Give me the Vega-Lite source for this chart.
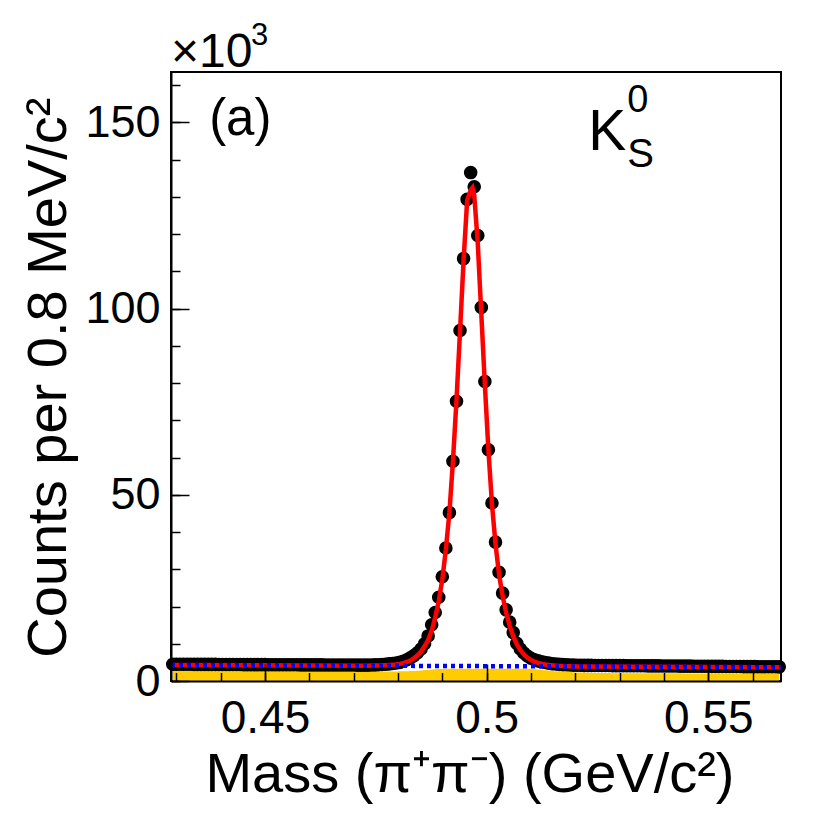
{
  "$schema": "https://vega.github.io/schema/vega-lite/v6.json",
  "description": "Ks0 -> pi+ pi- invariant mass with fit",
  "width": 610, "height": 609,
  "autosize": {"type": "none"},
  "padding": {"left": 171, "top": 72, "right": 49, "bottom": 136},
  "background": "white",
  "config": {
    "view": {"stroke": "black", "strokeWidth": 2},
    "font": "Liberation Sans",
    "text": {"font": "Liberation Sans", "color": "black"}
  },
  "datasets": {
    "bins": [
      {"m":0.4292,"n":4.50,"yl":2.80},{"m":0.4300,"n":4.50,"yl":2.80},{"m":0.4308,"n":4.49,"yl":2.79},{"m":0.4316,"n":4.49,"yl":2.79},
      {"m":0.4324,"n":4.48,"yl":2.78},{"m":0.4332,"n":4.48,"yl":2.78},{"m":0.4340,"n":4.47,"yl":2.77},{"m":0.4348,"n":4.47,"yl":2.77},
      {"m":0.4356,"n":4.46,"yl":2.77},{"m":0.4364,"n":4.46,"yl":2.76},{"m":0.4372,"n":4.46,"yl":2.76},{"m":0.4380,"n":4.45,"yl":2.75},
      {"m":0.4388,"n":4.45,"yl":2.75},{"m":0.4396,"n":4.44,"yl":2.74},{"m":0.4404,"n":4.44,"yl":2.74},{"m":0.4412,"n":4.43,"yl":2.74},
      {"m":0.4420,"n":4.43,"yl":2.73},{"m":0.4428,"n":4.43,"yl":2.73},{"m":0.4436,"n":4.42,"yl":2.72},{"m":0.4444,"n":4.42,"yl":2.72},
      {"m":0.4452,"n":4.41,"yl":2.71},{"m":0.4460,"n":4.41,"yl":2.71},{"m":0.4468,"n":4.40,"yl":2.71},{"m":0.4476,"n":4.40,"yl":2.70},
      {"m":0.4484,"n":4.39,"yl":2.70},{"m":0.4492,"n":4.39,"yl":2.69},{"m":0.4500,"n":4.39,"yl":2.69},{"m":0.4508,"n":4.38,"yl":2.68},
      {"m":0.4516,"n":4.38,"yl":2.68},{"m":0.4524,"n":4.37,"yl":2.68},{"m":0.4532,"n":4.37,"yl":2.67},{"m":0.4540,"n":4.36,"yl":2.67},
      {"m":0.4548,"n":4.36,"yl":2.66},{"m":0.4556,"n":4.35,"yl":2.66},{"m":0.4564,"n":4.35,"yl":2.65},{"m":0.4572,"n":4.35,"yl":2.65},
      {"m":0.4580,"n":4.34,"yl":2.65},{"m":0.4588,"n":4.34,"yl":2.64},{"m":0.4596,"n":4.33,"yl":2.64},{"m":0.4604,"n":4.33,"yl":2.63},
      {"m":0.4612,"n":4.32,"yl":2.63},{"m":0.4620,"n":4.32,"yl":2.62},{"m":0.4628,"n":4.32,"yl":2.62},{"m":0.4636,"n":4.31,"yl":2.62},
      {"m":0.4644,"n":4.31,"yl":2.61},{"m":0.4652,"n":4.30,"yl":2.61},{"m":0.4660,"n":4.30,"yl":2.60},{"m":0.4668,"n":4.29,"yl":2.60},
      {"m":0.4676,"n":4.29,"yl":2.59},{"m":0.4684,"n":4.28,"yl":2.59},{"m":0.4692,"n":4.28,"yl":2.59},{"m":0.4700,"n":4.28,"yl":2.58},
      {"m":0.4708,"n":4.27,"yl":2.58},{"m":0.4716,"n":4.27,"yl":2.57},{"m":0.4724,"n":4.26,"yl":2.57},{"m":0.4732,"n":4.26,"yl":2.56},
      {"m":0.4740,"n":4.30,"yl":2.56},{"m":0.4748,"n":4.33,"yl":2.56},{"m":0.4756,"n":4.37,"yl":2.55},{"m":0.4764,"n":4.42,"yl":2.56},
      {"m":0.4772,"n":4.50,"yl":2.56},{"m":0.4780,"n":4.60,"yl":2.57},{"m":0.4788,"n":4.70,"yl":2.57},{"m":0.4796,"n":4.84,"yl":2.58},
      {"m":0.4804,"n":5.00,"yl":2.59},{"m":0.4812,"n":5.30,"yl":2.60},{"m":0.4820,"n":5.70,"yl":2.63},{"m":0.4828,"n":6.20,"yl":2.66},
      {"m":0.4836,"n":6.80,"yl":2.70},{"m":0.4844,"n":7.60,"yl":2.77},{"m":0.4852,"n":8.60,"yl":2.85},{"m":0.4860,"n":10.0,"yl":2.93},
      {"m":0.4868,"n":12.1,"yl":3.00},{"m":0.4876,"n":15.1,"yl":3.08},{"m":0.4884,"n":18.4,"yl":3.15},{"m":0.4892,"n":22.5,"yl":3.20},
      {"m":0.4900,"n":28.0,"yl":3.25},{"m":0.4908,"n":35.7,"yl":3.28},{"m":0.4916,"n":45.2,"yl":3.30},{"m":0.4924,"n":59.0,"yl":3.30},
      {"m":0.4932,"n":75.1,"yl":3.30},{"m":0.4940,"n":94.1,"yl":3.30},{"m":0.4948,"n":113.4,"yl":3.30},{"m":0.4956,"n":129.3,"yl":3.30},
      {"m":0.4964,"n":136.5,"yl":3.30},{"m":0.4972,"n":132.7,"yl":3.30},{"m":0.4980,"n":119.6,"yl":3.30},{"m":0.4988,"n":100.3,"yl":3.30},
      {"m":0.4996,"n":80.4,"yl":3.30},{"m":0.5004,"n":62.1,"yl":3.30},{"m":0.5012,"n":47.8,"yl":3.30},{"m":0.5020,"n":37.3,"yl":3.30},
      {"m":0.5028,"n":29.2,"yl":3.30},{"m":0.5036,"n":23.6,"yl":3.30},{"m":0.5044,"n":19.1,"yl":3.30},{"m":0.5052,"n":15.8,"yl":3.30},
      {"m":0.5060,"n":13.0,"yl":3.30},{"m":0.5068,"n":10.1,"yl":3.30},{"m":0.5076,"n":8.6,"yl":3.30},{"m":0.5084,"n":7.5,"yl":3.30},
      {"m":0.5092,"n":6.7,"yl":3.30},{"m":0.5100,"n":6.1,"yl":3.26},{"m":0.5108,"n":5.7,"yl":3.20},{"m":0.5116,"n":5.4,"yl":3.10},
      {"m":0.5124,"n":5.15,"yl":3.00},{"m":0.5132,"n":4.95,"yl":2.90},{"m":0.5140,"n":4.80,"yl":2.80},{"m":0.5148,"n":4.65,"yl":2.72},
      {"m":0.5156,"n":4.55,"yl":2.65},{"m":0.5164,"n":4.47,"yl":2.57},{"m":0.5172,"n":4.40,"yl":2.50},{"m":0.5180,"n":4.35,"yl":2.45},
      {"m":0.5188,"n":4.30,"yl":2.40},{"m":0.5196,"n":4.27,"yl":2.35},{"m":0.5204,"n":4.24,"yl":2.31},{"m":0.5212,"n":4.22,"yl":2.28},
      {"m":0.5220,"n":4.20,"yl":2.25},{"m":0.5228,"n":4.19,"yl":2.22},{"m":0.5236,"n":4.19,"yl":2.19},{"m":0.5244,"n":4.18,"yl":2.17},
      {"m":0.5252,"n":4.17,"yl":2.15},{"m":0.5260,"n":4.16,"yl":2.14},{"m":0.5268,"n":4.16,"yl":2.13},{"m":0.5276,"n":4.15,"yl":2.12},
      {"m":0.5284,"n":4.14,"yl":2.11},{"m":0.5292,"n":4.13,"yl":2.10},{"m":0.5300,"n":4.13,"yl":2.10},{"m":0.5308,"n":4.12,"yl":2.10},
      {"m":0.5316,"n":4.11,"yl":2.10},{"m":0.5324,"n":4.11,"yl":2.09},{"m":0.5332,"n":4.10,"yl":2.09},{"m":0.5340,"n":4.09,"yl":2.09},
      {"m":0.5348,"n":4.08,"yl":2.08},{"m":0.5356,"n":4.08,"yl":2.08},{"m":0.5364,"n":4.07,"yl":2.08},{"m":0.5372,"n":4.06,"yl":2.07},
      {"m":0.5380,"n":4.05,"yl":2.07},{"m":0.5388,"n":4.05,"yl":2.07},{"m":0.5396,"n":4.04,"yl":2.06},{"m":0.5404,"n":4.03,"yl":2.06},
      {"m":0.5412,"n":4.03,"yl":2.06},{"m":0.5420,"n":4.02,"yl":2.05},{"m":0.5428,"n":4.01,"yl":2.05},{"m":0.5436,"n":4.00,"yl":2.05},
      {"m":0.5444,"n":4.00,"yl":2.04},{"m":0.5452,"n":3.99,"yl":2.04},{"m":0.5460,"n":3.98,"yl":2.04},{"m":0.5468,"n":3.97,"yl":2.03},
      {"m":0.5476,"n":3.97,"yl":2.03},{"m":0.5484,"n":3.96,"yl":2.03},{"m":0.5492,"n":3.95,"yl":2.02},{"m":0.5500,"n":3.95,"yl":2.02},
      {"m":0.5508,"n":3.94,"yl":2.02},{"m":0.5516,"n":3.93,"yl":2.01},{"m":0.5524,"n":3.92,"yl":2.01},{"m":0.5532,"n":3.92,"yl":2.01},
      {"m":0.5540,"n":3.91,"yl":2.01},{"m":0.5548,"n":3.90,"yl":2.00},{"m":0.5556,"n":3.89,"yl":2.00},{"m":0.5564,"n":3.89,"yl":2.00},
      {"m":0.5572,"n":3.88,"yl":2.00},{"m":0.5580,"n":3.87,"yl":2.00},{"m":0.5588,"n":3.87,"yl":2.00},{"m":0.5596,"n":3.86,"yl":1.99},
      {"m":0.5604,"n":3.85,"yl":1.99},{"m":0.5612,"n":3.84,"yl":1.99},{"m":0.5620,"n":3.84,"yl":1.99},{"m":0.5628,"n":3.83,"yl":1.99},
      {"m":0.5636,"n":3.82,"yl":1.98},{"m":0.5644,"n":3.81,"yl":1.98},{"m":0.5652,"n":3.81,"yl":1.98},{"m":0.5660,"n":3.80,"yl":1.98}
    ],
    "fit": [
      {"m":0.4288,"f":4.30},{"m":0.4732,"f":4.11},{"m":0.4740,"f":4.13},{"m":0.4748,"f":4.15},{"m":0.4756,"f":4.18},
      {"m":0.4764,"f":4.21},{"m":0.4772,"f":4.25},{"m":0.4780,"f":4.30},{"m":0.4788,"f":4.37},{"m":0.4796,"f":4.46},
      {"m":0.4804,"f":4.60},{"m":0.4812,"f":4.80},{"m":0.4820,"f":5.10},{"m":0.4828,"f":5.50},{"m":0.4836,"f":6.10},
      {"m":0.4844,"f":6.90},{"m":0.4852,"f":7.90},{"m":0.4860,"f":9.30},{"m":0.4868,"f":11.0},{"m":0.4876,"f":13.5},
      {"m":0.4884,"f":17.0},{"m":0.4892,"f":21.5},{"m":0.4900,"f":27.3},{"m":0.4908,"f":35.3},{"m":0.4916,"f":45.2},
      {"m":0.4924,"f":59.0},{"m":0.4932,"f":75.5},{"m":0.4940,"f":94.0},{"m":0.4948,"f":113.0},{"m":0.4956,"f":129.0},
      {"m":0.4964,"f":131.8},{"m":0.4968,"f":132.4},{"m":0.4972,"f":130.5},{"m":0.4980,"f":117.5},{"m":0.4988,"f":98.5},
      {"m":0.4996,"f":79.5},{"m":0.5004,"f":62.0},{"m":0.5012,"f":47.5},{"m":0.5020,"f":36.8},{"m":0.5028,"f":28.6},
      {"m":0.5036,"f":22.8},{"m":0.5044,"f":18.3},{"m":0.5052,"f":14.8},{"m":0.5060,"f":12.0},{"m":0.5068,"f":9.9},
      {"m":0.5076,"f":8.3},{"m":0.5084,"f":7.1},{"m":0.5092,"f":6.25},{"m":0.5100,"f":5.65},{"m":0.5108,"f":5.2},
      {"m":0.5116,"f":4.88},{"m":0.5124,"f":4.63},{"m":0.5132,"f":4.45},{"m":0.5140,"f":4.31},{"m":0.5148,"f":4.20},
      {"m":0.5156,"f":4.12},{"m":0.5164,"f":4.06},{"m":0.5172,"f":4.02},{"m":0.5180,"f":3.98},{"m":0.5188,"f":3.95},
      {"m":0.5196,"f":3.93},{"m":0.5204,"f":3.91},{"m":0.5212,"f":3.90},{"m":0.5220,"f":3.89},{"m":0.5664,"f":3.70}
    ],
    "bkg": [
      {"m":0.4288,"b":4.30},{"m":0.5664,"b":3.70}
    ]
  },
  "resolve": {"axis": {"x": "independent", "y": "independent"}},
  "layer": [
    {
      "data": {"name": "bins"},
      "mark": {"type": "area", "interpolate": "step", "color": "#ffcc00"},
      "encoding": {
        "x": {"field": "m", "type": "quantitative",
          "scale": {"domain": [0.4288, 0.5664], "nice": false, "zero": false},
          "axis": {"orient": "bottom", "values": [0.45, 0.5, 0.55], "format": "~g", "grid": false,
            "domain": true, "domainColor": "black", "domainWidth": 2,
            "tickSize": -17, "tickWidth": 1.5, "tickColor": "black",
            "labelFont": "Liberation Sans", "labelFontSize": 46, "labelColor": "black", "labelPadding": 32,
            "labelFlush": false, "labelOverlap": false, "zindex": 1,
            "title": "Mass (π⁺π⁻) (GeV/c²)", "titleFont": "Liberation Sans", "titleFontSize": 56,
            "titleFontWeight": "normal", "titleColor": "black", "titleAlign": "right",
            "titleBaseline": "alphabetic", "titleX": 563, "titleY": 110}},
        "y": {"field": "yl", "type": "quantitative",
          "scale": {"domain": [0, 163.5], "nice": false},
          "axis": {"orient": "left", "values": [0, 50, 100, 150], "grid": false,
            "domain": true, "domainColor": "black", "domainWidth": 2,
            "tickSize": -18, "tickWidth": 1.5, "tickColor": "black",
            "labelFont": "Liberation Sans", "labelFontSize": 45, "labelColor": "black", "labelPadding": 29,
            "labelFlush": false, "labelOverlap": false, "zindex": 1,
            "title": "Counts per 0.8 MeV/c²", "titleFont": "Liberation Sans", "titleFontSize": 56,
            "titleFontWeight": "normal", "titleColor": "black", "titleAlign": "right",
            "titleBaseline": "alphabetic", "titleAngle": 270, "titleX": -106, "titleY": 25}}
      }
    },
    {
      "data": {"name": "bins"},
      "mark": {"type": "circle", "color": "black", "opacity": 1, "size": 185},
      "encoding": {
        "x": {"field": "m", "type": "quantitative",
          "axis": {"orient": "bottom", "values": [0.43, 0.44, 0.45, 0.46, 0.47, 0.48, 0.49, 0.5, 0.51, 0.52, 0.53, 0.54, 0.55, 0.56],
            "labels": false, "domain": false, "grid": false, "title": null,
            "tickSize": -8.5, "tickWidth": 1.5, "tickColor": "black", "zindex": 1}},
        "y": {"field": "n", "type": "quantitative",
          "axis": {"orient": "left", "values": [0, 10, 20, 30, 40, 50, 60, 70, 80, 90, 100, 110, 120, 130, 140, 150, 160],
            "labels": false, "domain": false, "grid": false, "title": null,
            "tickSize": -9, "tickWidth": 1.5, "tickColor": "black", "zindex": 1}}
      }
    },
    {
      "data": {"name": "fit"},
      "mark": {"type": "line", "color": "#ff0000", "strokeWidth": 4.5},
      "encoding": {
        "x": {"field": "m", "type": "quantitative", "axis": null},
        "y": {"field": "f", "type": "quantitative", "axis": null}
      }
    },
    {
      "data": {"name": "bkg"},
      "mark": {"type": "line", "color": "#0000ff", "strokeWidth": 4.5, "strokeDash": [4, 4], "strokeCap": "butt"},
      "encoding": {
        "x": {"field": "m", "type": "quantitative", "axis": null},
        "y": {"field": "b", "type": "quantitative", "axis": null}
      }
    },
    {
      "data": {"values": [{}]},
      "mark": {"type": "text", "text": "(a)", "fontSize": 51, "align": "left", "baseline": "alphabetic"},
      "encoding": {
        "x": {"datum": 0.4374, "type": "quantitative", "axis": null},
        "y": {"datum": 146.6, "type": "quantitative", "axis": null}
      }
    },
    {
      "data": {"values": [{}]},
      "mark": {"type": "text", "text": "K", "fontSize": 57, "align": "left", "baseline": "alphabetic"},
      "encoding": {
        "x": {"datum": 0.5229, "type": "quantitative", "axis": null},
        "y": {"datum": 142.6, "type": "quantitative", "axis": null}
      }
    },
    {
      "data": {"values": [{}]},
      "mark": {"type": "text", "text": "0", "fontSize": 38, "align": "left", "baseline": "alphabetic", "dx": 39, "dy": -38},
      "encoding": {
        "x": {"datum": 0.5229, "type": "quantitative", "axis": null},
        "y": {"datum": 142.6, "type": "quantitative", "axis": null}
      }
    },
    {
      "data": {"values": [{}]},
      "mark": {"type": "text", "text": "S", "fontSize": 40, "align": "left", "baseline": "alphabetic", "dx": 39, "dy": 17},
      "encoding": {
        "x": {"datum": 0.5229, "type": "quantitative", "axis": null},
        "y": {"datum": 142.6, "type": "quantitative", "axis": null}
      }
    },
    {
      "data": {"values": [{}]},
      "mark": {"type": "text", "text": "×10", "fontSize": 48, "align": "left", "baseline": "alphabetic"},
      "encoding": {
        "x": {"datum": 0.4288, "type": "quantitative", "axis": null},
        "y": {"datum": 164.8, "type": "quantitative", "axis": null}
      }
    },
    {
      "data": {"values": [{}]},
      "mark": {"type": "text", "text": "3", "fontSize": 31, "align": "left", "baseline": "alphabetic"},
      "encoding": {
        "x": {"datum": 0.44685, "type": "quantitative", "axis": null},
        "y": {"datum": 170.7, "type": "quantitative", "axis": null}
      }
    }
  ]
}
